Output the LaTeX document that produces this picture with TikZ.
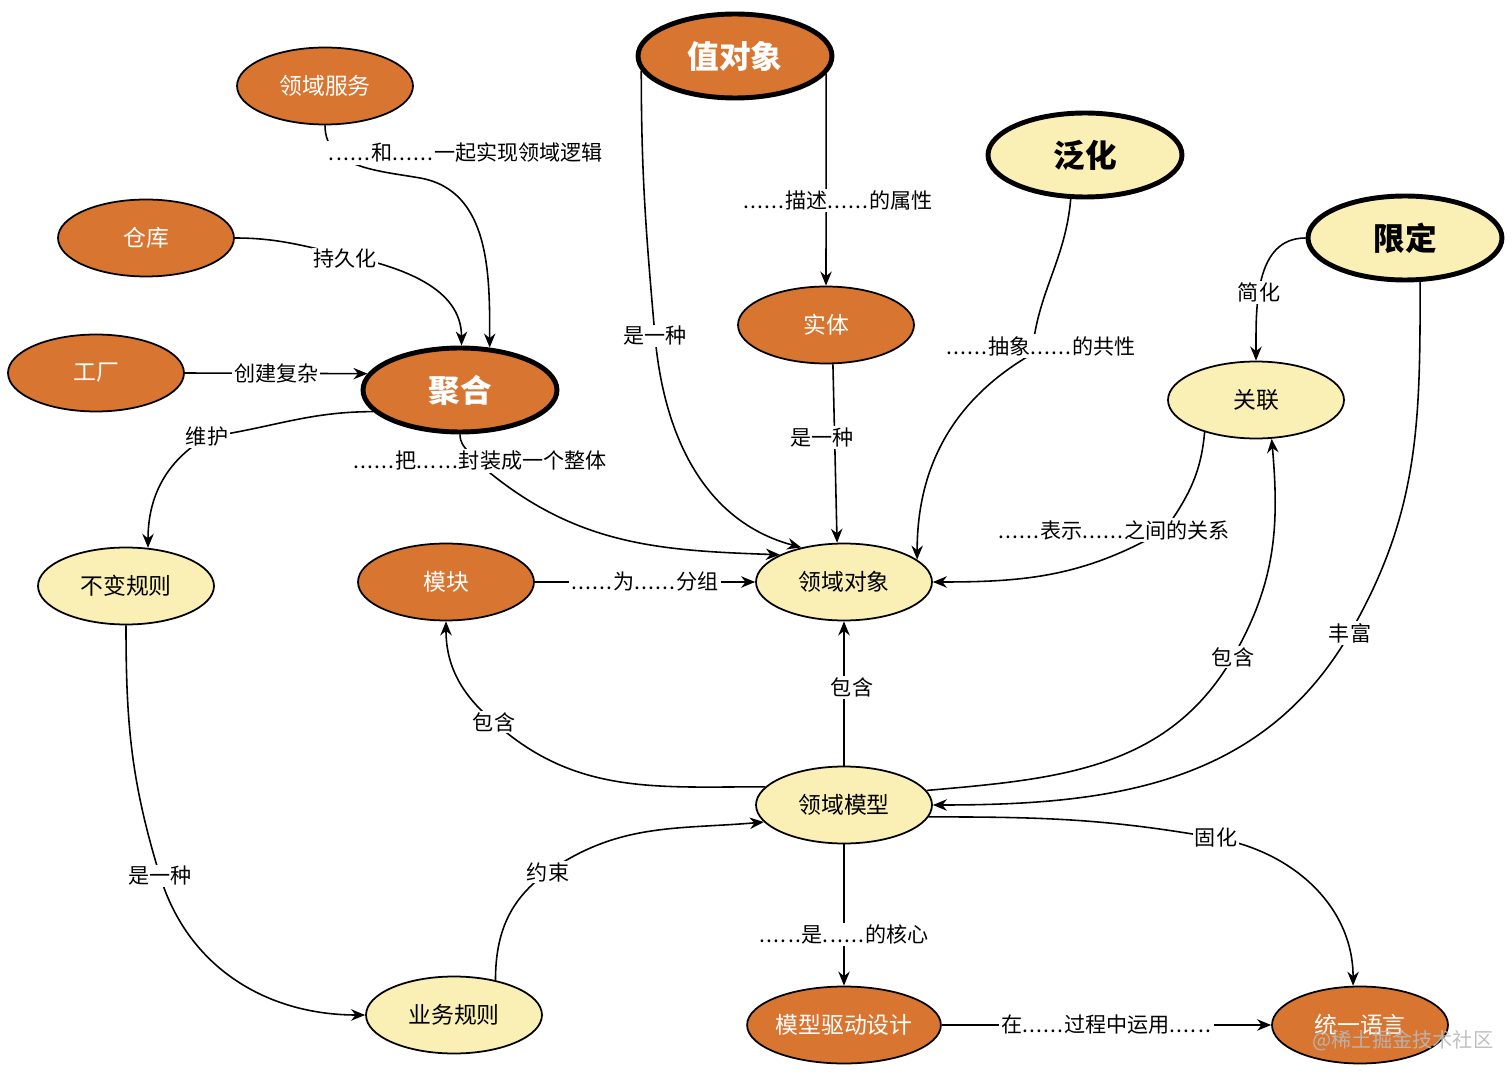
\documentclass[tikz,border=0pt]{standalone}
\usepackage{fontspec}
\setmainfont{Noto Sans CJK SC}
\usetikzlibrary{shapes.geometric,arrows.meta}

\definecolor{ddorange}{RGB}{216,117,48}
\definecolor{ddyellow}{RGB}{250,239,180}

% six spaced dots, as in the labels
\newcommand{\sixdots}{.\kern0.7pt.\kern0.7pt.\kern0.7pt.\kern0.7pt.\kern0.7pt.\kern0.5pt}

\tikzset{
  concept/.style={ellipse, draw=black, line width=1pt, minimum width=3.52cm,
    minimum height=1.54cm, inner sep=0pt, font=\fontsize{13pt}{15pt}\selectfont},
  orangeconcept/.style={concept, fill=ddorange, text=white},
  yellowconcept/.style={concept, fill=ddyellow, text=black},
  keyconcept/.style={line width=2.8pt, minimum width=3.88cm, minimum height=1.68cm,
    font=\fontsize{18pt}{20pt}\selectfont\bfseries},
  rel/.style={-{Stealth[length=8pt,width=6.5pt]}, line width=0.9pt},
  rellabel/.style={fill=white, inner sep=1pt, font=\fontsize{12pt}{14pt}\selectfont},
}

\begin{document}
\begin{tikzpicture}[x=0.02cm,y=0.02cm]

\useasboundingbox (0,0) rectangle (1512,1080);
%\draw[help lines,step=50] (0,0) grid (1512,1080);

% concepts
\node[orangeconcept,keyconcept] (vobj) at (735,1024) {值对象};
\node[orangeconcept] (svc) at (325,994) {领域服务};
\node[orangeconcept] (repo) at (146,842) {仓库};
\node[orangeconcept] (factory) at (96,707) {工厂};
\node[orangeconcept,keyconcept] (agg) at (460,690) {聚合};
\node[yellowconcept,keyconcept] (gen) at (1085,925) {泛化};
\node[yellowconcept,keyconcept] (limit) at (1405,842) {限定};
\node[orangeconcept] (entity) at (826,755) {实体};
\node[yellowconcept] (assoc) at (1256,680) {关联};
\node[yellowconcept] (inv) at (126,494) {不变规则};
\node[orangeconcept] (module) at (446,498) {模块};
\node[yellowconcept] (dobj) at (844,498) {领域对象};
\node[yellowconcept] (dmodel) at (844,275) {领域模型};
\node[yellowconcept] (brule) at (454,65) {业务规则};
\node[orangeconcept] (mdd) at (844,55) {模型驱动设计};
\node[orangeconcept] (ulang) at (1360,55) {统一语言};

% straight relations
\draw[rel] (factory.east) -- node[rellabel] (lfactory) {创建复杂} (agg.170);
\draw[rel] (module) -- node[rellabel] (lmodule) {\sixdots 为\sixdots 分组} (dobj);
\draw[rel] (vobj.-11) -- node[rellabel,pos=0.6,xshift=0.24cm] (lvobj) {\sixdots 描述\sixdots 的属性} (entity.north);
\draw[rel] (entity.-80) -- node[rellabel,pos=0.41,xshift=-0.26cm] (lentity) {是一种} (dobj.100);
\draw[rel] (dmodel) -- node[rellabel,pos=0.54,xshift=0.16cm] (ldobj) {包含} (dobj);
\draw[rel] (dmodel) -- node[rellabel,pos=0.64] (lmdd) {\sixdots 是\sixdots 的核心} (mdd);
\draw[rel] (mdd) -- node[rellabel] (lulang) {在\sixdots 过程中运用\sixdots} (ulang);
\draw[rel] (limit.west) to[out=180,in=90] node[rellabel,pos=0.58] (llimit) {简化} (assoc.north);

% curved relations
\draw[rel] (svc.south) to[out=-90,in=170] (420,902) to[out=-10,in=90] (agg.55);
\draw[rel] (repo.east) to[out=0,in=168] (345,825) to[out=-12,in=90] (agg.88);
\draw[rel] (agg.194) to[out=180,in=8] (207,643) to[out=210,in=90] (inv.60);
\draw[rel] (agg.south) to[out=-90,in=120] (484,612) to[out=-40,in=178] (dobj.157);
\draw[rel] (vobj.189) to[out=-90,in=95] (655,744) to[out=-85,in=165] (dobj.141);
\draw[rel] (gen.252) to[out=-95,in=85] (1032,726) to[out=210,in=90] (dobj.17);
\draw[rel] (assoc.212) to[out=-95,in=55] (1165,550) to[out=210,in=0] (dobj.east);
\draw[rel] (limit.289) to[out=-90,in=60] (1350,447) to[out=240,in=0] (dmodel.east);
\draw[rel] (dmodel.10) to[out=5,in=240] (1233,423) to[out=60,in=-85] (assoc.-68);
\draw[rel] (dmodel.167) to[out=180,in=-42] (494,358) to[out=140,in=-90] (module.south);
\draw[rel] (dmodel.-8) to[out=0,in=170] (1216,242) to[out=-10,in=90] (ulang.100);
\draw[rel] (brule.40) to[out=90,in=215] (548,208) to[out=35,in=185] (dmodel.192);
\draw[rel] (inv.south) to[out=-90,in=107] (160,204) to[out=-73,in=180] (brule.west);

% labels on the curves
\node[rellabel] (lsvc) at (466,927) {\sixdots 和\sixdots 一起实现领域逻辑};
\node[rellabel] (lrepo) at (345,821) {持久化};
\node[rellabel] (linv) at (207,643) {维护};
\node[rellabel] (lagg) at (480,619) {\sixdots 把\sixdots 封装成一个整体};
\node[rellabel] (lvobj2) at (655,744) {是一种};
\node[rellabel] (lgen) at (1041,734) {\sixdots 抽象\sixdots 的共性};
\node[rellabel] (lassoc) at (1114,550) {\sixdots 表示\sixdots 之间的关系};
\node[rellabel] (llimit2) at (1350,447) {丰富};
\node[rellabel] (lassoc2) at (1233,423) {包含};
\node[rellabel] (lmodule2) at (494,358) {包含};
\node[rellabel] (lulang2) at (1216,242) {固化};
\node[rellabel] (ldmodel) at (548,208) {约束};
\node[rellabel] (lbrule) at (160,204) {是一种};

% watermark
\node[text=gray!55,opacity=0.9,font=\fontsize{11.5pt}{13pt}\selectfont] (wmark) at (1403,39) {@稀土掘金技术社区};

\end{tikzpicture}
\end{document}
